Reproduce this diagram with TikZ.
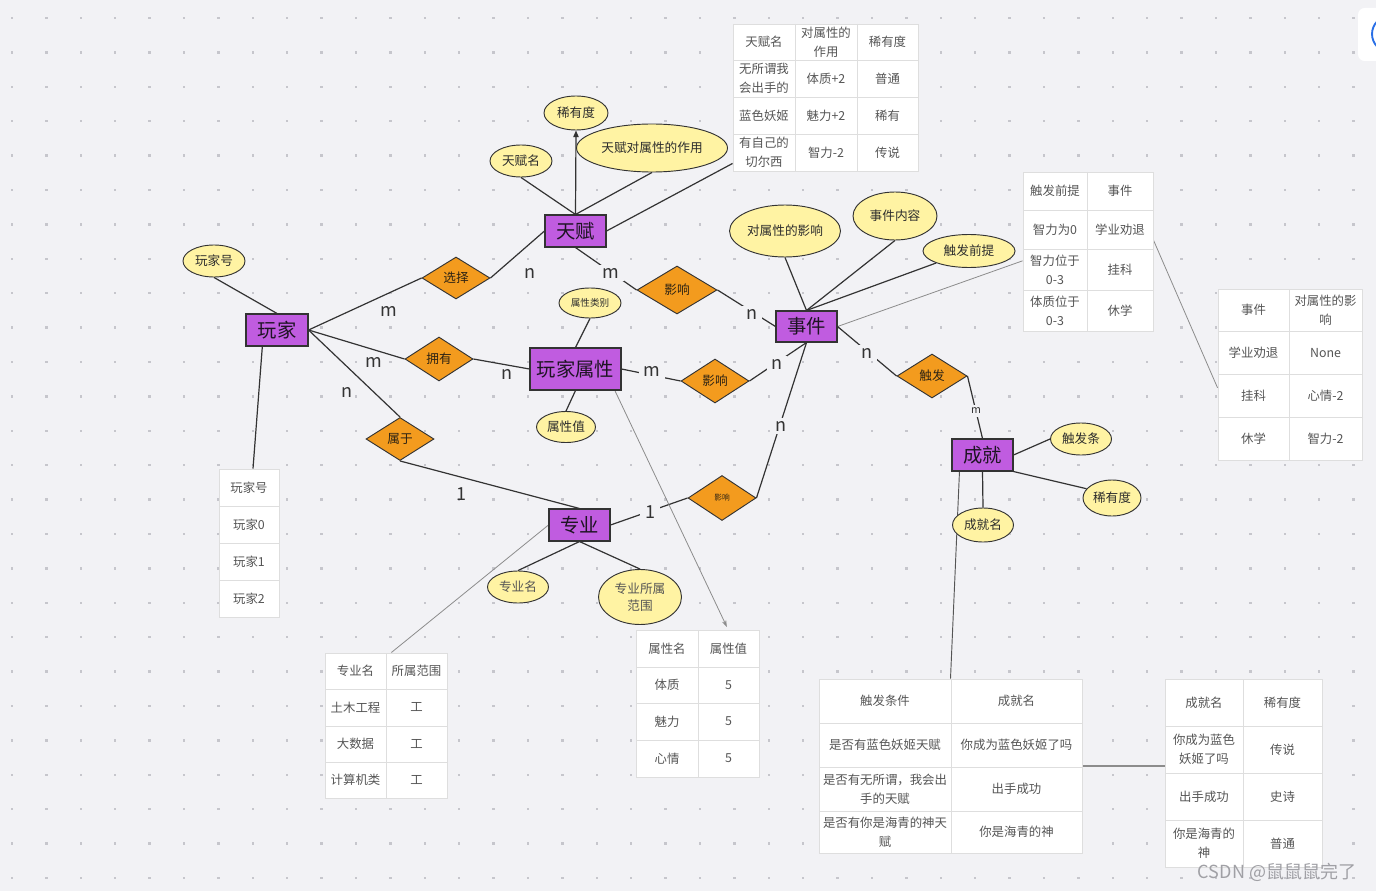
\documentclass[tikz,border=0pt]{standalone}
\usepackage{fontspec}
\setmainfont{Noto Sans CJK SC}
\usetikzlibrary{shapes.geometric,arrows.meta,fit,calc}
\definecolor{bgC}{RGB}{242,242,245}
\definecolor{dotC}{RGB}{198,198,204}
\definecolor{entC}{RGB}{192,92,224}
\definecolor{relC}{RGB}{243,155,30}
\definecolor{attC}{RGB}{255,243,163}
\definecolor{edgeC}{RGB}{51,51,51}
\definecolor{tblC}{RGB}{222,222,222}
\definecolor{txtC}{RGB}{85,85,85}
\definecolor{glC}{RGB}{140,140,140}
\definecolor{midC}{RGB}{85,85,85}
\definecolor{wmC}{RGB}{160,160,165}
\definecolor{blueC}{RGB}{40,110,230}
\definecolor{entT}{RGB}{30,20,35}
\definecolor{attT}{RGB}{45,45,45}
\definecolor{relT}{RGB}{45,35,20}
\pgfdeclarelayer{back}
\pgfsetlayers{back,main}
\begin{document}
\begin{tikzpicture}[x=0.75pt,y=-0.75pt,
  erEnt/.style={rectangle,draw=edgeC,line width=0.8pt,fill=entC,inner sep=0pt,text=entT,font=\fontsize{14.5}{17}\selectfont},
  erAttr/.style={ellipse,draw=edgeC,line width=0.7pt,fill=attC,inner sep=0pt,align=center,text=attT,font=\fontsize{9.5}{13}\selectfont},
  erRel/.style={diamond,draw=edgeC,line width=0.7pt,fill=relC,inner sep=0pt,text=relT,font=\fontsize{9.5}{12}\selectfont},
  tbBox/.style={draw=tblC,fill=white,line width=0.7pt,inner sep=0pt},
  tbLine/.style={draw=tblC,line width=0.7pt},
  tbCell/.style={inner sep=0pt,align=center,text=txtC,font=\fontsize{9.3}{14.25}\selectfont},
  lnMain/.style={draw=edgeC,line width=0.9pt},
  lnMid/.style={draw=midC,line width=0.7pt},
  lnGray/.style={draw=glC,line width=0.6pt},
  cardLab/.style={inner sep=0pt,text=edgeC,font=\fontsize{13.5}{16}\selectfont},
  cardGap/.style={cardLab,fill=bgC,inner xsep=3.5pt,inner ysep=2pt}
]
\begin{pgfonlayer}{back}
\fill[bgC] (0,0) rectangle (1376,891);
\foreach \i in {0,...,39}{\foreach \j in {0,...,25}{
  \fill[dotC] ({12+34.4*\i-1.2},{18+34.4*\j-1.2}) rectangle ++(2.4,2.4);}}
\end{pgfonlayer}
\useasboundingbox (0,0) rectangle (1376,891);

% top-right widget
\fill[white] (1358,8) [rounded corners=5pt] rectangle (1400,61);
\draw[blueC,line width=1.4pt] (1390,34) circle [radius=13.5pt];

% entities
\node[erEnt,minimum width=46.5pt,minimum height=24pt] (pl) at (277,330) {玩家};
\node[erEnt,minimum width=45.75pt,minimum height=24pt] (tf) at (575.5,231) {天赋};
\node[erEnt,minimum width=68.25pt,minimum height=31.5pt] (pa) at (575.5,369) {玩家属性};
\node[erEnt,minimum width=45.75pt,minimum height=23.25pt] (ev) at (806.5,326.5) {事件};
\node[erEnt,minimum width=45.75pt,minimum height=24pt] (mj) at (579.5,525) {专业};
\node[erEnt,minimum width=45.75pt,minimum height=24pt] (ach) at (982.5,455) {成就};

% relationships
\node[erRel,minimum width=51pt,minimum height=31.5pt] (dxz) at (456,278) {选择};
\node[erRel,minimum width=51pt,minimum height=33pt] (dyy) at (439,359) {拥有};
\node[erRel,minimum width=51pt,minimum height=32.25pt] (dsy) at (400,439) {属于};
\node[erRel,minimum width=60pt,minimum height=36pt] (dyx1) at (677,290) {影响};
\node[erRel,minimum width=51pt,minimum height=33pt] (dyx2) at (715,381) {影响};
\node[erRel,minimum width=51pt,minimum height=33.75pt,font=\fontsize{5.8}{7}\selectfont] (dyx3) at (722,498) {影响};
\node[erRel,minimum width=52.5pt,minimum height=33pt] (dcf) at (932,376) {触发};

% attributes
\node[erAttr,minimum width=46.5pt,minimum height=24pt] (epid) at (214,261) {玩家号};
\node[erAttr,minimum width=48pt,minimum height=25.5pt] (erar1) at (576,113) {稀有度};
\node[erAttr,minimum width=46.5pt,minimum height=24pt] (etfn) at (521,161) {天赋名};
\node[erAttr,minimum width=113.25pt,minimum height=36pt] (etfe) at (652,148) {天赋对属性的作用};
\node[erAttr,minimum width=46.5pt,minimum height=22.5pt,font=\fontsize{7.2}{9}\selectfont] (ecat) at (590,303) {属性类别};
\node[erAttr,minimum width=44.25pt,minimum height=23.25pt] (eval) at (566,427) {属性值};
\node[erAttr,minimum width=83.25pt,minimum height=39pt] (eeff) at (785,231) {对属性的影响};
\node[erAttr,minimum width=63pt,minimum height=36pt] (econ) at (895,216) {事件内容};
\node[erAttr,minimum width=69pt,minimum height=24.75pt] (epre) at (969,251) {触发前提};
\node[erAttr,minimum width=45.75pt,minimum height=24pt] (econd) at (1081,439) {触发条};
\node[erAttr,minimum width=43.5pt,minimum height=27pt] (erar2) at (1112,498) {稀有度};
\node[erAttr,minimum width=45.75pt,minimum height=25.5pt] (eachn) at (983,525) {成就名};
\node[erAttr,minimum width=45.75pt,minimum height=24pt,text=txtC] (emjn) at (518,587) {专业名};
\node[erAttr,minimum width=62.25pt,minimum height=41.25pt,text=txtC] (emjr) at (640,597) {专业所属\\范围};

% talent table
\node[tbBox,fit={(733,24) (918,171)}] (tTal) {};
\draw[tbLine] (795,24) -- (795,171) (857,24) -- (857,171) (733,60) -- (918,60) (733,97) -- (918,97) (733,134) -- (918,134);
\foreach \x/\y/\t [count=\i] in {764/42/天赋名, 826/42/{对属性的\\作用}, 887.5/42/稀有度,
  764/78.5/{无所谓我\\会出手的}, 826/78.5/体质+2, 887.5/78.5/普通,
  764/115.5/蓝色妖姬, 826/115.5/魅力+2, 887.5/115.5/稀有,
  764/152.5/{有自己的\\切尔西}, 826/152.5/智力-2, 887.5/152.5/传说}
  \node[tbCell] (tTal-\i) at (\x,\y) {\t};

% trigger table
\node[tbBox,fit={(1023,172) (1153,331)}] (tTrig) {};
\draw[tbLine] (1087,172) -- (1087,331) (1023,210) -- (1153,210) (1023,249) -- (1153,249) (1023,290) -- (1153,290);
\foreach \x/\y/\t [count=\i] in {1055/191/触发前提, 1120/191/事件,
  1055/229.5/智力为0, 1120/229.5/学业劝退,
  1055/269.5/{智力位于\\0-3}, 1120/269.5/挂科,
  1055/310.5/{体质位于\\0-3}, 1120/310.5/休学}
  \node[tbCell] (tTrig-\i) at (\x,\y) {\t};

% effect table
\node[tbBox,fit={(1218,289) (1362,460)}] (tEff) {};
\draw[tbLine] (1289,289) -- (1289,460) (1218,331) -- (1362,331) (1218,374) -- (1362,374) (1218,417) -- (1362,417);
\foreach \x/\y/\t [count=\i] in {1253.5/310/事件, 1325.5/310/{对属性的影\\响},
  1253.5/353/学业劝退, 1325.5/353/None,
  1253.5/396/挂科, 1325.5/396/心情-2,
  1253.5/439/休学, 1325.5/439/智力-2}
  \node[tbCell] (tEff-\i) at (\x,\y) {\t};

% player table
\node[tbBox,fit={(219,469) (279,617)}] (tPl) {};
\draw[tbLine] (219,506) -- (279,506) (219,543) -- (279,543) (219,580) -- (279,580);
\foreach \x/\y/\t [count=\i] in {249/488/玩家号, 249/525/玩家0, 249/562/玩家1, 249/599/玩家2}
  \node[tbCell] (tPl-\i) at (\x,\y) {\t};

% major table
\node[tbBox,fit={(325,653) (447,798)}] (tMaj) {};
\draw[tbLine] (386,653) -- (386,798) (325,689) -- (447,689) (325,726) -- (447,726) (325,762) -- (447,762);
\foreach \x/\y/\t [count=\i] in {355.5/671/专业名, 416.5/671/所属范围,
  355.5/707.5/土木工程, 416.5/707.5/工,
  355.5/744/大数据, 416.5/744/工,
  355.5/780/计算机类, 416.5/780/工}
  \node[tbCell] (tMaj-\i) at (\x,\y) {\t};

% attribute table
\node[tbBox,fit={(636,630) (759,777)}] (tAtt) {};
\draw[tbLine] (698,630) -- (698,777) (636,667) -- (759,667) (636,703) -- (759,703) (636,740) -- (759,740);
\foreach \x/\y/\t [count=\i] in {667/648.5/属性名, 728.5/648.5/属性值,
  667/685/体质, 728.5/685/5,
  667/721.5/魅力, 728.5/721.5/5,
  667/758.5/心情, 728.5/758.5/5}
  \node[tbCell] (tAtt-\i) at (\x,\y) {\t};

% achievement trigger table
\node[tbBox,fit={(819,679) (1082,853)}] (tAchT) {};
\draw[tbLine] (951,679) -- (951,853) (819,723) -- (1082,723) (819,767) -- (1082,767) (819,811) -- (1082,811);
\foreach \x/\y/\t [count=\i] in {885/701/触发条件, 1016.5/701/成就名,
  885/745/是否有蓝色妖姬天赋, 1016.5/745/你成为蓝色妖姬了吗,
  885/789/{是否有无所谓，我会出\\手的天赋}, 1016.5/789/出手成功,
  885/832/{是否有你是海青的神天\\赋}, 1016.5/832/你是海青的神}
  \node[tbCell] (tAchT-\i) at (\x,\y) {\t};

% achievement rarity table
\node[tbBox,fit={(1165,679) (1322,867)}] (tAchR) {};
\draw[tbLine] (1243,679) -- (1243,867) (1165,726) -- (1322,726) (1165,773) -- (1322,773) (1165,820) -- (1322,820);
\foreach \x/\y/\t [count=\i] in {1204/702.5/成就名, 1282.5/702.5/稀有度,
  1204/749.5/{你成为蓝色\\妖姬了吗}, 1282.5/749.5/传说,
  1204/796.5/出手成功, 1282.5/796.5/史诗,
  1204/843.5/{你是海青的\\神}, 1282.5/843.5/普通}
  \node[tbCell] (tAchR-\i) at (\x,\y) {\t};

% connectors
\begin{pgfonlayer}{back}
\draw[lnMain] (epid.south) -- (pl.north);
\draw[lnMain] ([xshift=-11pt]pl.south) -- ([xshift=3pt]tPl.north);
\draw[lnMain] (pl.east) -- (dxz.west);
\draw[lnMain] (pl.east) -- (dyy.west);
\draw[lnMain] (pl.east) -- (dsy.north);
\draw[lnMain] (dxz.east) -- (tf.west);
\draw[lnMain] (dyy.east) -- (pa.west);
\draw[lnMain] (dsy.south) -- (mj.north);
\draw[lnMain] (mj.east) -- (dyx3.west);
\draw[lnMain] (dyx3.east) -- (ev.south);
\draw[lnMain,-{Triangle[length=5pt,width=4pt]}] (tf.north) -- (erar1.south);
\draw[lnMain] (tf.north) -- (etfn.south);
\draw[lnMain] (tf.north) -- (etfe.south);
\draw[lnMain] (tf.east) -- ([yshift=6pt]tTal.south west);
\draw[lnMain] (tf.south) -- (dyx1.west);
\draw[lnMain] (dyx1.east) -- (ev.west);
\draw[lnMain] (pa.east) -- (dyx2.west);
\draw[lnMain] (dyx2.east) -- (ev.south);
\draw[lnMain] (ecat.south) -- (pa.north);
\draw[lnMain] (pa.south) -- (eval.north);
\draw[lnGray,-{Stealth[length=5pt,width=3.5pt]}] ([xshift=-5pt]pa.south east) -- ([shift={(22pt,2pt)}]tAtt.north);
\draw[lnMain] (ev.north) -- (eeff.south);
\draw[lnMain] (ev.north) -- (econ.south);
\draw[lnMain] (ev.north) -- (epre.south west);
\draw[lnGray] (ev.east) -- ([yshift=-7pt]tTrig.west);
\draw[lnGray] ([yshift=8.5pt]tTrig.east) -- ([yshift=-10pt]tEff.west);
\draw[lnMain] (ev.east) -- (dcf.west);
\draw[lnMain] (dcf.east) -- (ach.north);
\draw[lnMain] (ach.east) -- (econd.west);
\draw[lnMain] (ach.south east) -- (erar2.160);
\draw[lnMain] (ach.south) -- (eachn.north);
\draw[lnMid] ([xshift=6pt]ach.south west) -- (tAchT.north);
\draw[lnGray,line width=1.1pt] (tAchT.east) -- (tAchT.east -| tAchR.west);
\draw[lnGray] (mj.west) -- ([xshift=4pt]tMaj.north);
\draw[lnMain] (mj.south) -- (emjn.north);
\draw[lnMain] (mj.south) -- (emjr.north);
\end{pgfonlayer}

% cardinality labels
\node[cardLab] (c1) at (389,311) {m};
\node[cardLab] (c2) at (530,273) {n};
\node[cardLab] (c3) at (374,362) {m};
\node[cardLab] (c4) at (507,374) {n};
\node[cardLab] (c5) at (347,392) {n};
\node[cardLab] (c6) at (461,494) {1};
\node[cardGap] (c7) at (650,512) {1};
\node[cardGap] (c8) at (611,273) {m};
\node[cardGap] (c9) at (752,314) {n};
\node[cardGap] (c10) at (652,371) {m};
\node[cardGap] (c11) at (777,364) {n};
\node[cardGap] (c12) at (781,426) {n};
\node[cardGap] (c13) at (867,353) {n};
\node[cardGap,font=\fontsize{8}{9}\selectfont] (c14) at (976,411) {m};

% watermark
\node[inner sep=0pt,text=wmC,font=\fontsize{13.5}{16}\selectfont] (wm) at (1277,872) {CSDN @鼠鼠鼠完了};
\end{tikzpicture}
\end{document}
